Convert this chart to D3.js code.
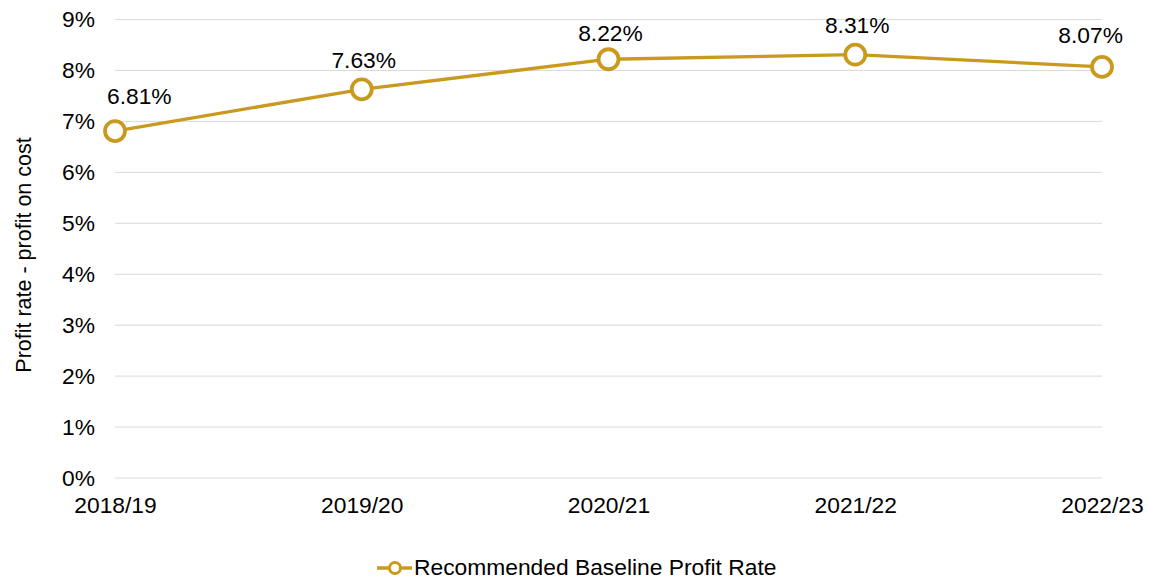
<!DOCTYPE html>
<html>
<head>
<meta charset="utf-8">
<script src="https://cdn.jsdelivr.net/npm/d3@7"></script>
<style>
  html, body { margin: 0; padding: 0; background: #fff; }
  svg { display: block; font-family: "Liberation Sans", Arial, sans-serif; }
</style>
</head>
<body>
<svg id="chart" width="1149" height="580"></svg>
<script>
// Profit rate by year
const years = ["2018/19", "2019/20", "2020/21", "2021/22", "2022/23"];
const profitRate = [6.81, 7.63, 8.22, 8.31, 8.07];
const yTicks = [0, 1, 2, 3, 4, 5, 6, 7, 8, 9];
const seriesName = "Recommended Baseline Profit Rate";
const yTitle = "Profit rate - profit on cost";

// vertical gap (px) between each marker and its value label
const labelGap = [27, 21, 18, 22, 24];

const gold = "#C99A1E";
const fontSize = 22.8;
const svg = d3.select("#chart");

const x = d3.scalePoint().domain(years).range([115, 1102]);
const y = d3.scaleLinear().domain([0, 9]).range([478, 19.5]);

// horizontal gridlines
svg.append("g").selectAll("line").data(yTicks).join("line")
  .attr("x1", 115).attr("x2", 1102)
  .attr("y1", d => y(d)).attr("y2", d => y(d))
  .attr("stroke", "#d9d9d9").attr("stroke-width", 1);

// y axis labels
const yAxis = svg.append("g").attr("transform", "translate(95,0)")
  .call(d3.axisLeft(y).tickValues(yTicks).tickFormat(d => d + "%").tickSize(0).tickPadding(0));
yAxis.select(".domain").remove();
yAxis.selectAll("text").attr("font-size", fontSize).attr("fill", "#000")
  .style("font-family", "Liberation Sans, Arial, sans-serif");

// x axis labels
const xAxis = svg.append("g").attr("transform", "translate(0,497)")
  .call(d3.axisBottom(x).tickSize(0).tickPadding(0));
xAxis.select(".domain").remove();
xAxis.selectAll("text").attr("font-size", fontSize).attr("fill", "#000")
  .attr("dy", "0.71em").attr("y", 0)
  .style("font-family", "Liberation Sans, Arial, sans-serif");

// y axis title
svg.append("text")
  .attr("transform", "translate(31,255) rotate(-90)")
  .attr("text-anchor", "middle")
  .attr("font-size", 21.5).attr("fill", "#000")
  .text(yTitle);

const pts = years.map((yr, i) => ({ yr, v: profitRate[i], i }));

// line
svg.append("path").datum(pts)
  .attr("fill", "none").attr("stroke", gold).attr("stroke-width", 3.3)
  .attr("d", d3.line().x(d => x(d.yr)).y(d => y(d.v)));

// markers
svg.append("g").selectAll("circle").data(pts).join("circle")
  .attr("cx", d => x(d.yr)).attr("cy", d => y(d.v)).attr("r", 10)
  .attr("fill", "#fff").attr("stroke", gold).attr("stroke-width", 3.8);

// value labels above each marker, kept inside the plot at both ends
const last = pts.length - 1;
svg.append("g").selectAll("text").data(pts).join("text")
  .attr("x", d => d.i === 0 ? x(d.yr) - 8 : d.i === last ? x(d.yr) + 21 : x(d.yr) + 2)
  .attr("y", d => y(d.v) - labelGap[d.i])
  .attr("text-anchor", d => d.i === 0 ? "start" : d.i === last ? "end" : "middle")
  .attr("font-size", fontSize).attr("fill", "#000")
  .text(d => d.v.toFixed(2) + "%");

// legend
const lg = svg.append("g").attr("transform", "translate(377,568)");
lg.append("line").attr("x1", 0).attr("x2", 35).attr("y1", 0).attr("y2", 0)
  .attr("stroke", gold).attr("stroke-width", 3.3);
lg.append("circle").attr("cx", 18).attr("cy", 0).attr("r", 5.5)
  .attr("fill", "#fff").attr("stroke", gold).attr("stroke-width", 3);
lg.append("text").attr("x", 37).attr("y", 6.5)
  .attr("font-size", fontSize).attr("fill", "#000").text(seriesName);
</script>
</body>
</html>
